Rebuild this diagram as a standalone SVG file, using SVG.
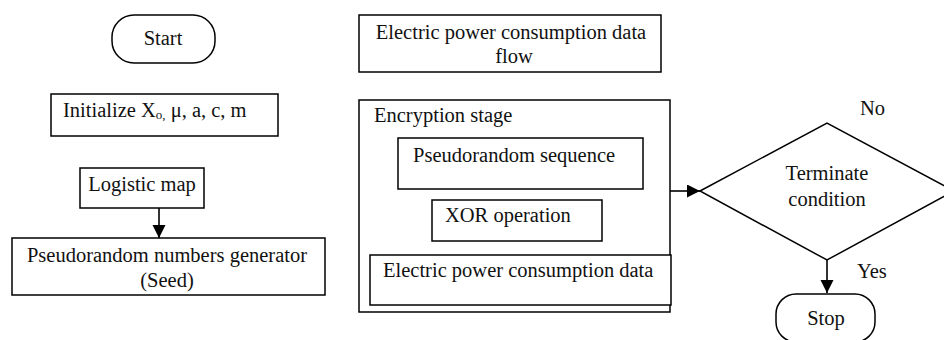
<svg xmlns="http://www.w3.org/2000/svg" width="944" height="340" viewBox="0 0 944 340">
<style>
.b{fill:#fff;stroke:#000;stroke-width:1.5}
.t{font-family:"Liberation Serif","Times New Roman",serif;font-size:20.5px;fill:#111}
.c{text-anchor:middle}
.l{stroke:#000;stroke-width:1.6;fill:none}
</style>
<defs>
<marker id="ah" markerUnits="userSpaceOnUse" markerWidth="14" markerHeight="14" refX="13" refY="6.5" orient="auto">
<path d="M0,0 L13,6.5 L0,13 z" fill="#000"/>
</marker>
</defs>
<rect width="944" height="340" fill="#fff"/>
<g id="start">
<rect class="b" x="112" y="15" width="103" height="48" rx="22"/>
<text class="t c" x="163" y="45">Start</text>
</g>
<g id="init">
<rect class="b" x="51" y="94" width="227" height="42"/>
<text class="t" x="63" y="117">Initialize X<tspan font-size="13" dy="2">o,</tspan><tspan dy="-2"> μ, a, c, m</tspan></text>
</g>
<g id="logistic">
<rect class="b" x="80" y="168" width="124" height="40"/>
<text class="t c" x="142" y="191">Logistic map</text>
</g>
<g id="prng">
<rect class="b" x="12" y="238" width="313" height="57"/>
<text class="t c" x="167" y="262">Pseudorandom numbers generator</text>
<text class="t c" x="167" y="287">(Seed)</text>
</g>
<g id="flow">
<rect class="b" x="359" y="15" width="302" height="57"/>
<text class="t c" x="511" y="39">Electric power consumption data</text>
<text class="t c" x="514" y="63">flow</text>
</g>
<g id="encryption">
<rect class="b" x="359" y="100" width="311" height="212"/>
<text class="t" x="374" y="122">Encryption stage</text>
</g>
<g id="sequence">
<rect class="b" x="398" y="138" width="245" height="51"/>
<text class="t" x="413" y="162">Pseudorandom sequence</text>
</g>
<g id="xor">
<rect class="b" x="432" y="200" width="170" height="41"/>
<text class="t" x="445" y="222">XOR operation</text>
</g>
<g id="data">
<rect class="b" x="370" y="255" width="301" height="50"/>
<text class="t" x="383" y="277">Electric power consumption data</text>
</g>
<g id="terminate">
<polygon class="b" points="700,191 827,123 954,191 827,260"/>
<text class="t c" x="827" y="180">Terminate</text>
<text class="t c" x="827" y="206">condition</text>
</g>
<g id="stop">
<rect class="b" x="776" y="294" width="99" height="48" rx="20"/>
<text class="t c" x="826" y="325">Stop</text>
</g>
<g id="connectors">
<line class="l" x1="159" y1="208" x2="159" y2="238" marker-end="url(#ah)"/>
<line class="l" x1="670" y1="191" x2="700" y2="191" marker-end="url(#ah)"/>
<line class="l" x1="827" y1="260" x2="827" y2="293" marker-end="url(#ah)"/>
<text class="t" x="860" y="115">No</text>
<text class="t" x="857" y="278">Yes</text>
</g>
</svg>
